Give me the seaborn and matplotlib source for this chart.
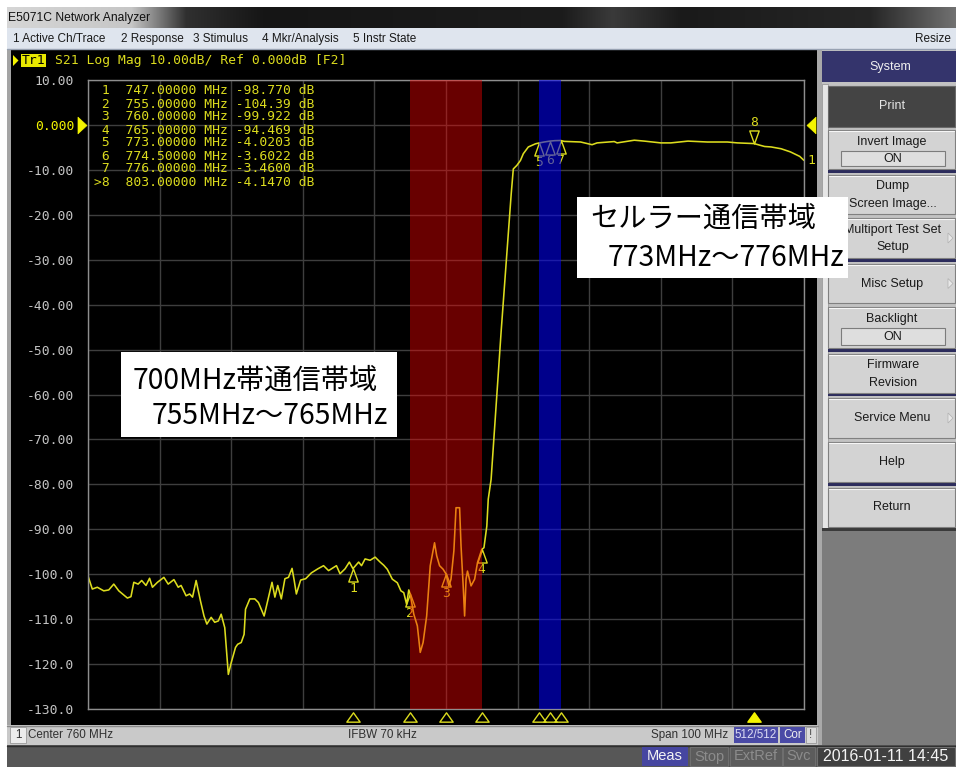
import numpy as np
import pandas as pd
import matplotlib
matplotlib.use("Agg")
import matplotlib.pyplot as plt
import matplotlib.colors as mcolors
import seaborn as sns
from matplotlib.patches import Rectangle
from matplotlib.path import Path
from matplotlib.transforms import ScaledTranslation, blended_transform_factory

# ---------------- measured S21 trace (MHz, dB) ----------------
freq_mhz = [
    710.0, 710.6, 711.3, 712.2, 712.9, 713.6, 714.3, 715.5, 716.0, 716.4,
    717.0, 717.5, 718.1, 718.6, 719.0, 719.7, 720.6, 721.2, 722.0, 722.6,
    723.0, 723.7, 724.2, 724.6, 725.1, 725.7, 726.2, 726.6, 727.2, 727.7,
    728.2, 728.6, 729.1, 729.3, 729.6, 730.0, 730.6, 730.9, 731.4, 731.8,
    732.0, 732.6, 733.3, 733.8, 734.6, 735.1, 735.7, 736.1, 736.5, 737.0,
    737.5, 738.0, 738.5, 738.8, 739.1, 739.7, 740.4, 741.2, 742.1, 742.9,
    743.6, 744.7, 745.2, 745.9, 746.5, 747.0, 747.8, 748.2, 748.7, 749.4,
    750.1, 750.8, 751.3, 751.8, 752.5, 753.2, 753.7, 754.1, 754.5, 754.8,
    755.0, 755.5, 756.0, 756.4, 756.8, 757.3, 757.8, 758.4, 758.7, 759.1,
    759.6, 760.0, 760.4, 760.7, 761.1, 761.4, 761.9, 762.1, 762.4, 762.6,
    762.8, 763.0, 763.5, 764.0, 764.4, 765.0, 765.3, 765.7, 765.9, 766.3,
    767.7, 769.1, 769.3, 769.4, 769.9, 770.4, 770.8, 771.5, 772.5, 773.0,
    773.7, 774.5, 775.2, 776.0, 776.5, 778.8, 780.4, 781.1, 783.5, 783.9,
    786.3, 787.7, 790.0, 791.4, 793.8, 796.5, 799.3, 800.7, 803.0, 804.5,
    805.4, 806.8, 808.1, 809.4, 810.0,
]
s21_db = [
    -100.4, -103.3, -102.9, -103.7, -103.5, -102.2, -103.7, -105.3, -105.0, -101.8,
    -102.2, -101.4, -102.5, -100.9, -102.9, -101.8, -100.7, -102.2, -101.2, -102.9,
    -102.5, -104.8, -104.4, -105.1, -101.4, -105.9, -109.3, -111.1, -109.6, -110.7,
    -110.4, -108.9, -111.9, -116.0, -122.3, -119.7, -116.3, -115.6, -115.2, -113.4,
    -107.8, -105.5, -105.5, -106.3, -109.3, -105.9, -101.8, -105.1, -102.5, -105.5,
    -101.0, -100.7, -98.7, -101.4, -104.4, -101.3, -101.0, -99.7, -98.8, -98.1,
    -99.2, -98.1, -99.9, -98.8, -97.3, -98.770, -97.3, -98.1, -96.6, -96.9,
    -96.2, -97.3, -98.0, -98.9, -101.1, -101.9, -103.7, -104.1, -106.7, -103.5,
    -104.39, -108.9, -111.5, -117.4, -115.2, -109.3, -98.1, -93.0, -95.9, -98.1,
    -98.9, -99.922, -102.6, -101.1, -94.8, -85.2, -85.2, -93.7, -102.6, -109.3,
    -101.1, -99.3, -102.6, -101.1, -97.4, -94.469, -94.1, -89.3, -83.3, -78.9,
    -46.0, -15.5, -11.6, -9.8, -9.0, -7.9, -6.4, -4.9, -4.2, -4.0203,
    -3.8, -3.6022, -3.5, -3.4600, -3.66, -3.8, -4.4, -4.0, -3.7, -4.0,
    -3.4, -3.6, -4.0, -4.0, -3.6, -3.8, -3.8, -4.0, -4.1470, -4.8,
    -4.9, -5.3, -6.0, -7.0, -7.9,
]

marker_ids = ["1", "2", "3", "4", "5", "6", "7", "8"]
marker_freq = [747.0, 755.0, 760.0, 765.0, 773.0, 774.5, 776.0, 803.0]
marker_db = [-98.770, -104.39, -99.922, -94.469, -4.0203, -3.6022, -3.4600, -4.1470]
active_marker = "8"

band_700_mhz = [755.0, 765.0]
band_cell_mhz = [773.0, 776.0]

x_ticks = [710, 720, 730, 740, 750, 760, 770, 780, 790, 800, 810]
y_ticks = [10, 0, -10, -20, -30, -40, -50, -60, -70, -80, -90, -100, -110, -120, -130]
y_tick_labels = ["10.00", "0.000", "-10.00", "-20.00", "-30.00", "-40.00", "-50.00",
                 "-60.00", "-70.00", "-80.00", "-90.00", "-100.0", "-110.0",
                 "-120.0", "-130.0"]

menu_items = ["1 Active Ch/Trace", "2 Response", "3 Stimulus", "4 Mkr/Analysis", "5 Instr State"]
band_700_text = ["700MHz帯通信帯域", "755MHz～765MHz"]
band_cell_text = ["セルラー通信帯域", "773MHz～776MHz"]

# ---------------- figure + pixel-space helper axes ----------------
W, H, DPI = 956, 767, 100
YEL = "#dcdc1e"
YEL_HI = "#f4f400"
UI_FONT = ["Liberation Sans", "DejaVu Sans"]
MONO = "DejaVu Sans Mono"
JP = ["Noto Sans CJK JP", "DejaVu Sans"]

sns.set_theme(style="dark")
plt.rcParams["font.family"] = ["DejaVu Sans"]

fig = plt.figure(figsize=(W / DPI, H / DPI), dpi=DPI, facecolor="white")


def px_axes(z):
    a = fig.add_axes([0, 0, 1, 1], zorder=z)
    a.set_xlim(0, W)
    a.set_ylim(H, 0)
    a.axis("off")
    a.patch.set_alpha(0)
    return a


ui = px_axes(0)
top = px_axes(5)


def box(a, x0, y0, x1, y1, fc, ec="none", lw=0.0, z=1):
    a.add_patch(Rectangle((x0, y0), x1 - x0, y1 - y0, facecolor=fc,
                          edgecolor=ec, linewidth=lw, zorder=z))


def label(a, x, y, s, size=8.5, color="#1a1a1a", ha="left", family=UI_FONT, z=4, **kw):
    a.text(x, y, s, fontsize=size, color=color, ha=ha, va="center",
           family=family, zorder=z, **kw)


# window title bar
stops = [(0, "#d6d6d6"), (125, "#c6c6c6"), (180, "#303030"), (260, "#151515"),
         (560, "#1c1c1c"), (610, "#3a3a3a"), (680, "#1a1a1a"), (870, "#262626"),
         (956, "#727272")]
xs = np.arange(W)
rgb = np.array([mcolors.to_rgb(c) for _, c in stops])
pos = [p for p, _ in stops]
grad = np.stack([np.interp(xs, pos, rgb[:, k]) for k in range(3)], axis=-1)[None, :, :]
ui.imshow(grad, extent=(7, W, 28, 7), aspect="auto", zorder=1, interpolation="bilinear")
ui.set_xlim(0, W)
ui.set_ylim(H, 0)
label(ui, 8, 18, "E5071C Network Analyzer", size=8.7, color="#111111")

# menu bar
box(ui, 7, 28, W, 49, "#dfe5ee")
ui.plot([7, W], [49, 49], color="#98a2b2", lw=1, zorder=2)
for x, s in zip([13, 121, 193, 262, 353], menu_items):
    label(ui, x, 39, s, size=8.5)
label(ui, 951, 39, "Resize", size=8.5, ha="right")

# display frame and black screen
box(ui, 7, 49, 11, 745, "#a4a4a4")
box(ui, 11, 50, 818, 725, "#000000")
box(ui, 817, 50, 822, 745, "#a9a9a9")

# softkey panel
KEY = 9.0
box(ui, 822, 50, W, 530, "#c2c2c2")
box(ui, 822, 51, W, 82, "#34346c")
label(ui, 890, 67, "System", size=KEY, color="#f0f0f0", ha="center")
box(ui, 822, 84, 828, 528, "#e6e6e6", ec="#9a9a9a", lw=0.6)
box(ui, 828, 86, 955, 127, "#444444", ec="#6a6a6a", lw=0.8)
label(ui, 892, 106, "Print", size=KEY, color="#e6e6e6", ha="center")

for ysep in [171, 260, 350, 394, 484]:
    box(ui, 828, ysep - 1, 956, ysep + 1.5, "#2c2c5c", z=2)


def key(y0, y1, lines, arrow=False, toggle=False):
    box(ui, 828, y0, 955, y1, "#d3d3d3", ec="#808080", lw=0.8, z=2)
    ui.plot([829, 954], [y0 + 1.2, y0 + 1.2], color="#f6f6f6", lw=0.8, zorder=3)
    if toggle:
        box(ui, 841, y0 + 21, 945, y1 - 3, "#dedede", ec="#7c7c7c", lw=0.8, z=3)
        label(ui, 892, y0 + 12, lines[0], size=KEY, ha="center")
        label(ui, 893, (y0 + 21 + y1 - 3) / 2, "ON", size=KEY, ha="center")
        return
    if len(lines) == 1:
        label(ui, 892, (y0 + y1) / 2, lines[0], size=KEY, ha="center")
    else:
        label(ui, 893, y0 + 11.5, lines[0], size=KEY, ha="center")
        label(ui, 893, y0 + 29, lines[1], size=KEY, ha="center")
    if arrow:
        ui.add_patch(plt.Polygon([[948, (y0 + y1) / 2 - 5], [948, (y0 + y1) / 2 + 5],
                                  [953, (y0 + y1) / 2]], closed=True,
                                 facecolor="#e8e8e8", edgecolor="#b0b0b0", lw=0.5, zorder=4))


key(130, 169, ["Invert Image"], toggle=True)
key(175, 214, ["Dump", "Screen Image..."])
key(218, 258, ["Multiport Test Set", "Setup"], arrow=True)
key(264, 303, ["Misc Setup"], arrow=True)
key(307, 348, ["Backlight"], toggle=True)
key(354, 393, ["Firmware", "Revision"])
key(398, 438, ["Service Menu"], arrow=True)
key(442, 482, ["Help"])
key(488, 527, ["Return"])
box(ui, 822, 528, W, 531, "#3a3a3a")
box(ui, 822, 531, W, 745, "#7c7c7c")

# channel status bar
box(ui, 7, 725, 818, 745, "#c9c9c9")
ui.plot([7, 818], [725.5, 725.5], color="#8a8a8a", lw=1, zorder=2)
box(ui, 10, 727, 26, 743, "#ececec", ec="#9a9a9a", lw=0.6, z=2)
label(ui, 18, 735, "1", size=8.4, ha="center", color="#303030")
label(ui, 28, 735, "Center 760 MHz", size=8.4, color="#303030")
label(ui, 348, 735, "IFBW 70 kHz", size=8.4, color="#303030")
label(ui, 651, 735, "Span 100 MHz", size=8.4, color="#303030")
box(ui, 734, 727, 778, 743, "#4a4aa6", z=2)
label(ui, 756, 735, "512/512", size=8.4, ha="center", color="#dcdcf4")
box(ui, 780, 727, 805, 743, "#4a4aa6", z=2)
label(ui, 792.5, 735, "Cor", size=8.4, ha="center", color="#eeeeee")
box(ui, 806, 727, 816, 743, "#dadada", ec="#9a9a9a", lw=0.6, z=2)
label(ui, 811, 735, "!", size=8.4, ha="center", color="#505050")

# instrument status bar
box(ui, 7, 745, W, 767, "#575757")
ui.plot([7, W], [745.5, 745.5], color="#2e2e2e", lw=1, zorder=2)
box(ui, 642, 747, 688, 766, "#4646a0", z=2)
label(ui, 665, 756.5, "Meas", size=10.5, ha="center", color="#f4f4f4")
for (x0, x1, s) in [(690, 728, "Stop"), (730, 782, "ExtRef"), (783, 815, "Svc")]:
    box(ui, x0, 747, x1, 766, "#5c5c5c", ec="#6e6e6e", lw=0.8, z=2)
    label(ui, (x0 + x1) / 2, 756.5, s, size=10.5, ha="center", color="#8c8c8c")
box(ui, 817, 747, 955, 766, "#404040", ec="#6e6e6e", lw=0.8, z=2)
label(ui, 886, 756.5, "2016-01-11 14:45", size=11.5, ha="center", color="#f4f4f4")

# ---------------- measurement grid ----------------
ax = fig.add_axes([88 / W, 1 - 709 / H, 716 / W, 629 / H], zorder=2)
ax.set_facecolor("black")
ax.set_axisbelow(True)

trace = pd.DataFrame({"freq": freq_mhz, "s21": s21_db})
sns.lineplot(data=trace, x="freq", y="s21", ax=ax, color=YEL, linewidth=1.15,
             estimator=None, legend=False, zorder=2)

ax.set_xlim(710, 810)
ax.set_ylim(-130, 10)
ax.set_xlabel("")
ax.set_ylabel("")
ax.grid(True, color="#3e3e3e", linewidth=1.0)
ax.set_xticks(x_ticks)
ax.set_xticklabels([])
ax.set_yticks(y_ticks)
ax.set_yticklabels(y_tick_labels, family=MONO, fontsize=9.4, color="#c4c4c4")
ax.get_yticklabels()[y_ticks.index(0)].set_color(YEL_HI)
ax.tick_params(length=0, pad=10)
for sp in ax.spines.values():
    sp.set_color("#8e8e8e")
    sp.set_linewidth(1.0)

# frequency bands, overlaid translucently on the trace
ax.axvspan(*band_700_mhz, color=(1.0, 0.0, 0.0), alpha=0.41, lw=0, zorder=3)
ax.axvspan(*band_cell_mhz, color=(0.0, 0.0, 1.0), alpha=0.55, lw=0, zorder=3)

# markers on the trace
hang = Path([(0, 0.5), (-0.36, -0.5), (0.36, -0.5), (0, 0.5)], closed=True)
perch = Path([(0, -0.5), (-0.36, 0.5), (0.36, 0.5), (0, -0.5)], closed=True)
below = ax.transData + ScaledTranslation(0, -0.065, fig.dpi_scale_trans)
above = ax.transData + ScaledTranslation(0, 0.065, fig.dpi_scale_trans)
for mid, f, v in zip(marker_ids, marker_freq, marker_db):
    if mid == active_marker:
        ax.plot([f], [v], marker=perch, ms=9.4, mfc="none", mec=YEL, mew=1.0,
                transform=above, zorder=2.5, clip_on=False)
        ax.annotate(mid, (f, v), xytext=(0, 10.5), textcoords="offset points",
                    ha="center", va="bottom", family=MONO, fontsize=9.4, color=YEL,
                    zorder=2.5, annotation_clip=False)
    else:
        ax.plot([f], [v], marker=hang, ms=9.4, mfc="none", mec=YEL, mew=1.0,
                transform=below, zorder=2.5, clip_on=False)
        ax.annotate(mid, (f, v), xytext=(0, -9.5), textcoords="offset points",
                    ha="center", va="top", family=MONO, fontsize=9.4, color=YEL,
                    zorder=2.5, annotation_clip=False)

# trace number at the right end of the sweep
ax.annotate("1", (freq_mhz[-1], s21_db[-1]), xytext=(2.5, 0), textcoords="offset points",
            ha="left", va="center", family=MONO, fontsize=9.4, color=YEL,
            annotation_clip=False, zorder=6)

# marker position indicators under the grid
wide = Path([(0, 0.35), (-0.5, -0.35), (0.5, -0.35), (0, 0.35)], closed=True)
under = blended_transform_factory(ax.transData, ax.transAxes) + \
    ScaledTranslation(0, -0.075, fig.dpi_scale_trans)
for mid, f in zip(marker_ids, marker_freq):
    ax.plot([f], [0], marker=wide, ms=9.6, mec=YEL if mid != active_marker else YEL_HI,
            mfc=YEL_HI if mid == active_marker else "none", mew=1.0,
            transform=under, clip_on=False, zorder=6)

# reference level arrows on both sides
ref_db = y_ticks[y_ticks.index(0)]
left_arrow = Path([(0.27, 0), (-0.27, 0.5), (-0.27, -0.5), (0.27, 0)], closed=True)
right_arrow = Path([(-0.27, 0), (0.27, 0.5), (0.27, -0.5), (-0.27, 0)], closed=True)
side = blended_transform_factory(ax.transAxes, ax.transData)
ax.plot([0], [ref_db], marker=left_arrow, ms=12, mfc=YEL_HI, mec=YEL_HI, mew=0.5,
        transform=side + ScaledTranslation(-0.065, 0, fig.dpi_scale_trans),
        clip_on=False, zorder=6)
ax.plot([1], [ref_db], marker=right_arrow, ms=12, mfc=YEL_HI, mec=YEL_HI, mew=0.5,
        transform=side + ScaledTranslation(0.07, 0, fig.dpi_scale_trans),
        clip_on=False, zorder=6)

# ---------------- trace header and marker table ----------------
top.add_patch(plt.Polygon([[13, 55], [13, 66], [18.5, 60.5]], closed=True,
                          facecolor=YEL_HI, edgecolor="none", zorder=4))
box(top, 21, 54, 46, 67, "#e8e800", z=4)
label(top, 33.5, 60.5, "Tr1", size=9.4, color="#000000", ha="center", family=MONO, z=5)
label(top, 55, 60.5, "S21 Log Mag 10.00dB/ Ref 0.000dB [F2]", size=9.4, color=YEL,
      family=MONO, z=5)


def five_digits(v):
    ip = len(str(int(abs(v))))
    return f"{v:.{5 - ip}f}"


for i, (mid, f, v) in enumerate(zip(marker_ids, marker_freq, marker_db)):
    tag = (">" + mid) if mid == active_marker else mid
    row = f"{tag:>2}  {f:9.5f} MHz {five_digits(v):>7} dB"
    label(top, 94, 91 + 13 * i, row, size=9.4, color=YEL, family=MONO, z=5)

# ---------------- band captions ----------------
box(top, 577, 197, 848, 278, "#ffffff", z=8)
label(top, 590, 219, band_cell_text[0], size=20.3, color="#000000", family=JP, z=9)
label(top, 608, 258, band_cell_text[1], size=20.3, color="#000000", family=JP, z=9)
box(top, 121, 352, 397, 437, "#ffffff", z=8)
label(top, 133, 381, band_700_text[0], size=20.3, color="#000000", family=JP, z=9)
label(top, 152, 416, band_700_text[1], size=20.3, color="#000000", family=JP, z=9)

fig.savefig("out.png", dpi=DPI, facecolor=fig.get_facecolor())
